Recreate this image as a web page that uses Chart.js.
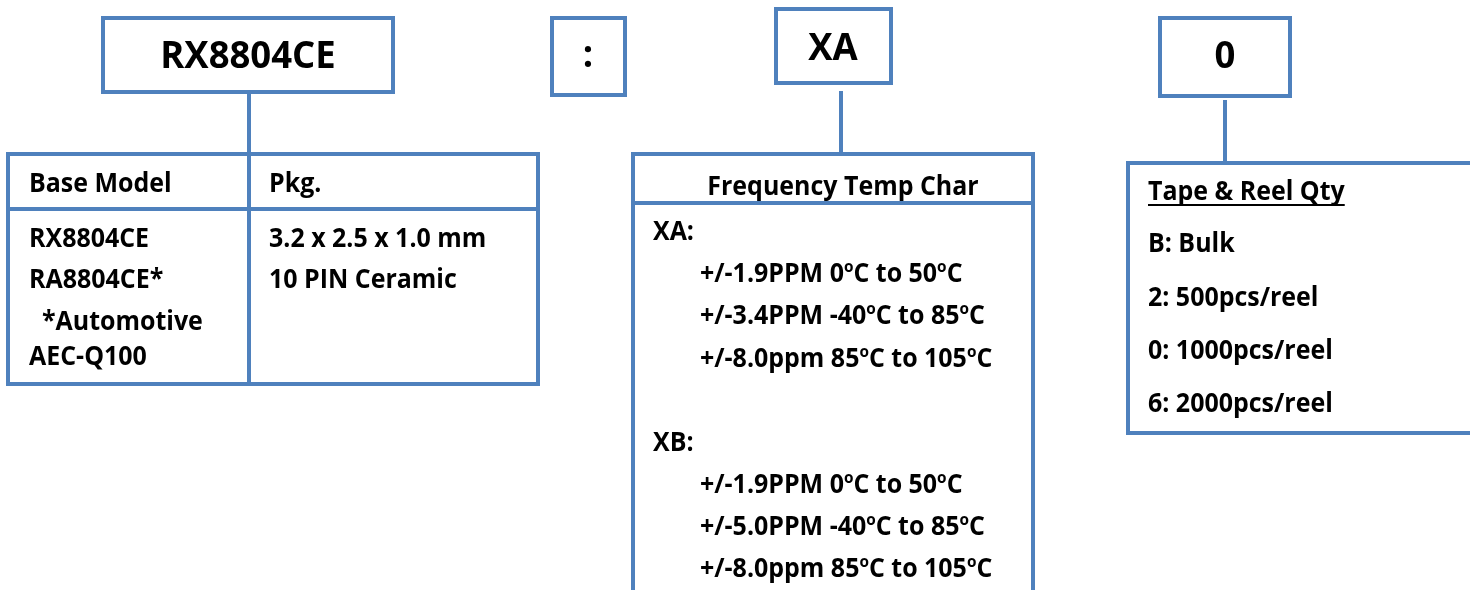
<!DOCTYPE html>
<html><head><meta charset="utf-8">
<script src="https://cdn.jsdelivr.net/npm/chart.js@4"></script>
<style>html,body{margin:0;padding:0;background:#fff}#wrap{width:1470px;height:590px;position:relative}</style>
</head><body><div id="wrap"><canvas id="c"></canvas></div>
<script>
// ---------- DATA (text content) ----------
const partCodes = ['RX8804CE', ':', 'XA', '0'];
const baseHeaders = ['Base Model', 'Pkg.'];
const baseModels = ['RX8804CE', 'RA8804CE*', '  *Automotive', 'AEC-Q100'];
const packages = ['3.2 x 2.5 x 1.0 mm', '10 PIN Ceramic'];
const freqTitle = ['Frequency Temp Char'];
const freqGroups = ['XA:', 'XB:'];
const xaLines = ['+/-1.9PPM 0°C to 50°C', '+/-3.4PPM -40°C to 85°C', '+/-8.0ppm 85°C to 105°C'];
const xbLines = ['+/-1.9PPM 0°C to 50°C', '+/-5.0PPM -40°C to 85°C', '+/-8.0ppm 85°C to 105°C'];
const reelTitle = ['Tape & Reel Qty'];
const reelOptions = ['B: Bulk', '2: 500pcs/reel', '0: 1000pcs/reel', '6: 2000pcs/reel'];

// ---------- LAYOUT (diagram geometry, in scale units) ----------
const BORDER = '#4F81BD';
const FONT = '"Open Sans", "Noto Sans", sans-serif';
const BIG = 38, BODY = 26, XSCALE = 0.96;
const layout = {
  codeBoxes: [[103,18,393,92],[552,18,625,95],[776,9,891,83],[1160,18,1290,96]],
  codeText: [[248,68],[588,67],[833,60],[1225,68]],
  connectors: [[249,92,154],[841,91,154],[1225,100,163]],
  table1: {x0:8,y0:154,x1:538,y1:384,colX:249,headY:209},
  t1HeadBase: 192, t1Cols:[29,269], t1Rows:[247,288,330,365],
  table2: {x0:633,y0:154,x1:1033,y1:610,headY:203},
  t2TitleX: 843, t2TitleBase: 195, t2GroupX: 653, t2LineX: 700,
  t2GroupBase:[240,451], t2XaBase:[282,324,367], t2XbBase:[493,535,577],
  table3: {x0:1128,y0:163,x1:1480,y1:433},
  t3X: 1148, t3TitleBase: 200, t3Rows:[252,306,359,412]
};

function drawRich(ctx, str, x, y, size, align) {
  const parts = str.split('°');
  const fMain = 'bold ' + size + 'px ' + FONT;
  const fSup = 'bold ' + Math.round(size*0.6) + 'px ' + FONT;
  let total = 0;
  const segs = [];
  parts.forEach((p, i) => {
    ctx.font = fMain; const w = ctx.measureText(p).width; segs.push([p, w, false]); total += w;
    if (i < parts.length - 1) { ctx.font = fSup; const ws = ctx.measureText('o').width; segs.push(['o', ws, true]); total += ws; }
  });
  ctx.save();
  ctx.translate(x, y);
  ctx.scale(XSCALE, 1);
  let cx = align === 'center' ? -total/2 : 0;
  ctx.textAlign = 'left'; ctx.textBaseline = 'alphabetic'; ctx.fillStyle = '#000';
  segs.forEach(([t, w, sup]) => {
    ctx.font = sup ? fSup : fMain;
    ctx.fillText(t, cx, sup ? -size*0.38 : 0);
    cx += w;
  });
  ctx.restore();
  return total * XSCALE;
}

const diagramPlugin = {
  id: 'diagram',
  afterDatasetsDraw(chart) {
    const ctx = chart.ctx, sx = chart.scales.x, sy = chart.scales.y;
    const X = v => sx.getPixelForValue(v), Y = v => sy.getPixelForValue(v);
    ctx.save();
    ctx.strokeStyle = BORDER; ctx.lineWidth = 4; ctx.lineJoin = 'miter'; ctx.lineCap = 'butt';
    const rect = (x0,y0,x1,y1) => ctx.strokeRect(X(x0), Y(y0), X(x1)-X(x0), Y(y1)-Y(y0));
    const line = (x0,y0,x1,y1) => { ctx.beginPath(); ctx.moveTo(X(x0),Y(y0)); ctx.lineTo(X(x1),Y(y1)); ctx.stroke(); };
    layout.codeBoxes.forEach(b => rect(...b));
    layout.connectors.forEach(c => line(c[0], c[1], c[0], c[2]));
    const t1 = layout.table1;
    rect(t1.x0,t1.y0,t1.x1,t1.y1); line(t1.colX,t1.y0,t1.colX,t1.y1); line(t1.x0,t1.headY,t1.x1,t1.headY);
    const t2 = layout.table2;
    rect(t2.x0,t2.y0,t2.x1,t2.y1); line(t2.x0,t2.headY,t2.x1,t2.headY);
    const t3 = layout.table3;
    rect(t3.x0,t3.y0,t3.x1,t3.y1);

    // texts
    partCodes.forEach((t,i) => drawRich(ctx, t, X(layout.codeText[i][0]), Y(layout.codeText[i][1]), BIG, 'center'));
    baseHeaders.forEach((t,i) => drawRich(ctx, t, X(layout.t1Cols[i]), Y(layout.t1HeadBase), BODY, 'left'));
    baseModels.forEach((t,i) => drawRich(ctx, t, X(layout.t1Cols[0]), Y(layout.t1Rows[i]), BODY, 'left'));
    packages.forEach((t,i) => drawRich(ctx, t, X(layout.t1Cols[1]), Y(layout.t1Rows[i]), BODY, 'left'));
    drawRich(ctx, freqTitle[0], X(layout.t2TitleX), Y(layout.t2TitleBase), BODY, 'center');
    freqGroups.forEach((t,i) => drawRich(ctx, t, X(layout.t2GroupX), Y(layout.t2GroupBase[i]), BODY, 'left'));
    xaLines.forEach((t,i) => drawRich(ctx, t, X(layout.t2LineX), Y(layout.t2XaBase[i]), BODY, 'left'));
    xbLines.forEach((t,i) => drawRich(ctx, t, X(layout.t2LineX), Y(layout.t2XbBase[i]), BODY, 'left'));
    const w = drawRich(ctx, reelTitle[0], X(layout.t3X), Y(layout.t3TitleBase), BODY, 'left');
    ctx.strokeStyle = '#000'; ctx.lineWidth = 2;
    ctx.beginPath(); ctx.moveTo(X(layout.t3X), Y(layout.t3TitleBase)+5); ctx.lineTo(X(layout.t3X)+w, Y(layout.t3TitleBase)+5); ctx.stroke();
    reelOptions.forEach((t,i) => drawRich(ctx, t, X(layout.t3X), Y(layout.t3Rows[i]), BODY, 'left'));
    ctx.restore();
  }
};

new Chart(document.getElementById('c'), {
  type: 'scatter',
  data: { datasets: [{ data: [], pointRadius: 0 }] },
  options: {
    responsive: true, maintainAspectRatio: false, animation: false,
    layout: { padding: 0 },
    plugins: { legend: { display: false }, tooltip: { enabled: false } },
    scales: {
      x: { type: 'linear', min: 0, max: 1470, display: false },
      y: { type: 'linear', min: 0, max: 590, reverse: true, display: false }
    }
  },
  plugins: [diagramPlugin]
});
</script></body></html>
